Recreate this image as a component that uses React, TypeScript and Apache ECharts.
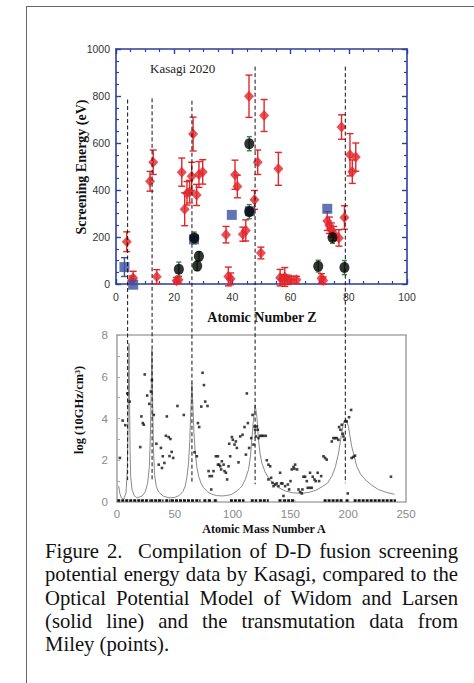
import React, { useEffect, useRef } from "react";
import * as echarts from "echarts";

// ---------- Top chart data (Kasagi 2020): [Z, screening energy eV, error half-length] ----------
const redPoints: number[][] = [
  [3.7, 180, 42], [5.5, 16, 18], [5.9, 26, 28], [11.7, 437, 42], [12.8, 518, 52], [14.0, 31, 30],
  [20.8, 14, 14], [21.5, 18, 14], [22.6, 476, 60], [23.6, 318, 70], [24.4, 386, 50], [25.3, 393, 48],
  [26.0, 458, 60], [26.5, 638, 72], [27.7, 379, 45], [28.5, 466, 55], [29.8, 477, 52],
  [37.8, 210, 35], [38.6, 32, 40], [39.4, 22, 25], [40.9, 465, 62], [41.7, 415, 48],
  [43.6, 212, 30], [44.6, 228, 45], [45.7, 799, 90], [47.6, 358, 40], [48.7, 518, 52],
  [49.8, 132, 25], [50.9, 717, 68], [55.8, 490, 70],
  [56.4, 27, 35], [57.2, 20, 20], [58.0, 30, 40], [58.8, 18, 20], [60.2, 18, 15], [62.0, 18, 15],
  [70.6, 24, 20], [71.2, 15, 15], [72.6, 268, 40], [73.3, 250, 35], [74.0, 230, 30], [74.8, 215, 30],
  [76.6, 196, 35], [77.5, 668, 52], [78.5, 283, 50], [80.4, 550, 90], [81.2, 478, 50], [82.4, 540, 60],
];
const bluePoints: number[][] = [
  [2.9, 72, 40], [5.9, -3, 0], [26.8, 190, 0], [39.8, 294, 0], [46.0, 310, 0], [72.6, 320, 0],
];
const blackPoints: number[][] = [
  [21.6, 63, 30], [26.9, 196, 25], [27.9, 77, 20], [28.5, 118, 20], [45.8, 308, 30],
  [45.8, 597, 30], [69.5, 76, 25], [74.4, 198, 25], [78.5, 70, 30],
];
const zTicks = [0, 20, 40, 60, 80, 100];
const eTicks = [0, 200, 400, 600, 800, 1000];

// ---------- Bottom chart data (Widom-Larsen model curve, Miley transmutation points) ----------
const modelCurve: number[][] = [
  [1.5, 0.76], [2.5, 0.4], [3.7, 0.2], [5.8, 0.13], [7.8, 0.44], [8.9, 1.56], [9.5, 3.46], [10.1, 6.3],
  [10.4, 7.6], [10.8, 5.0], [11.3, 2.5], [11.8, 1.24], [13, 0.6], [15, 0.3], [17.5, 0.2], [21.5, 0.28],
  [24.5, 0.5], [26.5, 0.9], [28, 1.7], [29, 3.4], [29.7, 5.8], [30.2, 7.3], [30.8, 5.0], [31.5, 2.6],
  [32.5, 1.3], [34, 0.75], [36, 0.48], [40, 0.28], [45, 0.2], [50, 0.22], [54, 0.32], [57, 0.5],
  [59, 0.76], [60.5, 1.2], [61.9, 1.87], [63, 3.0], [63.8, 4.3], [64.8, 5.68], [65.8, 4.4], [66.6, 3.3],
  [67.7, 2.35], [69, 1.7], [70.6, 1.24], [72.5, 0.92], [74.9, 0.68], [78, 0.5], [82.1, 0.37], [86, 0.31],
  [90.7, 0.29], [95, 0.31], [99.4, 0.37], [103, 0.5], [106, 0.64], [108, 0.76], [111, 1.08], [113.8, 1.56],
  [115.5, 2.2], [116.6, 2.98], [118, 3.9], [119.5, 4.65], [121, 4.1], [122.4, 2.98], [123.8, 2.3],
  [125.3, 1.87], [128, 1.45], [131, 1.16], [135, 0.9], [140, 0.68], [146, 0.52], [152, 0.44], [160, 0.42],
  [166, 0.46], [172, 0.56], [177, 0.72], [182, 0.9], [186, 1.25], [189, 1.7], [191.5, 2.3], [193.5, 3.0],
  [196, 3.8], [198, 3.97], [200.2, 3.62], [203, 2.67], [207.4, 1.71], [210.5, 1.35], [214.6, 1.08],
  [220, 0.82], [226, 0.6], [233, 0.46], [240, 0.37],
];
const mileyPoints: number[][] = [
  [2.5, 2.11], [4.9, 3.9], [7.2, 3.68], [8.9, 5.2], [10.9, 4.81], [20.1, 2.63], [21.1, 4.1], [22.3, 3.78],
  [23.2, 3.7], [24.0, 6.11], [26.1, 5.1], [27.9, 4.7], [29.3, 5.29], [30.2, 5.84], [31.8, 4.17], [34.1, 2.79],
  [36.1, 1.79], [38.0, 2.59], [38.9, 1.63], [39.6, 2.19], [41.0, 1.87], [42.3, 3.17], [43.1, 4.1],
  [44.7, 3.11], [46.2, 3.02], [45.4, 2.2], [47.3, 2.4], [48.6, 2.11], [52.3, 4.6], [57.8, 4.17],
  [67.1, 2.38], [69.1, 2.19], [70.0, 3.78], [71.1, 3.59], [72.9, 4.57], [74.0, 6.19], [75.2, 5.6],
  [76.3, 4.81], [78.3, 4.6], [79.2, 1.48], [80.1, 1.24], [81.5, 0.6], [82.1, 1.24], [83.5, 1.48],
  [85.5, 2.19], [87.3, 2.19], [87.3, 1.79], [88.4, 1.79], [89.3, 1.71], [90.1, 1.56], [90.7, 1.95],
  [92.2, 1.79], [93.0, 1.48], [94.2, 1.4], [95.3, 1.08], [96.5, 1.71], [97.1, 2.79], [97.9, 2.19],
  [99.4, 3.11], [100.2, 2.98], [101.7, 2.75], [102.8, 2.9], [103.7, 2.59], [105.1, 1.9], [106.6, 3.14],
  [108.6, 3.22], [110.3, 3.59], [111.5, 2.27], [112.3, 5.2], [113.2, 3.78], [114.3, 2.59], [116.1, 3.06],
  [117.2, 4.17], [118.1, 2.75], [119.0, 3.62], [119.5, 3.46], [120.1, 3.14], [121.0, 3.62], [121.8, 3.46],
  [122.4, 3.06], [123.8, 3.17], [125.3, 3.17], [126.7, 3.17], [128.7, 3.17], [129.6, 2.0], [131.0, 1.79],
  [132.5, 1.71], [131.0, 1.08], [133.3, 1.16], [134.5, 0.92], [135.4, 0.76], [136.8, 0.84], [138.2, 0.89],
  [139.7, 0.76], [141.1, 1.4], [142.0, 0.89], [143.1, 0.89], [144.0, 0.29], [145.4, 0.76], [147.8, 0.84],
  [148.9, 0.6], [150.1, 1.0], [151.2, 1.56], [152.7, 1.68], [153.5, 1.59], [154.1, 1.79], [155.8, 1.56],
  [157.0, 0.6], [158.4, 0.48], [159.9, 0.41], [160.4, 0.6], [161.3, 1.21], [162.7, 1.21], [164.2, 1.0],
  [165.0, 0.68], [167.0, 0.68], [168.5, 0.68], [167.0, 1.4], [169.3, 1.21], [170.8, 1.08], [171.9, 1.0],
  [173.6, 1.4], [174.8, 1.0], [176.6, 1.24], [178.6, 2.19], [180.0, 2.11], [181.4, 2.03], [185.8, 2.9],
  [187.2, 3.06], [188.6, 3.06], [190.1, 3.06], [191.5, 2.98], [192.1, 3.59], [193.3, 3.46], [194.4, 3.7],
  [195.3, 3.27], [195.9, 3.14], [196.7, 2.98], [197.3, 3.86], [198.7, 3.86], [199.6, 0.41], [200.7, 4.06],
  [202.5, 4.41], [203.0, 2.11], [204.5, 2.16], [205.9, 2.22], [237.0, 1.21],
];
// ranges of A where Miley points sit at (about) zero, drawn as a dense rug on the axis
const zeroRanges: number[][] = [
  [1.5, 19], [22, 27], [30, 35], [37, 39], [43, 45], [48, 66], [69, 71], [76, 77], [80, 81], [85, 86],
  [99, 109], [117, 120], [124, 130], [141, 142], [145, 150], [152, 153], [180, 194], [199, 200], [206, 240],
];
const aTicks = [0, 50, 100, 150, 200, 250];
const logTicks = [0, 2, 4, 6, 8];

// dashed guides linking Z (top) to A peaks (bottom): Z, top energy, bottom log value
const guideZ = [4.0, 12.4, 26.1, 47.8, 78.8];
const guideTopE = [785, 790, 780, 925, 925];
const guideBottomV = [1.05, 1.05, 0.95, 0.85, 0.9];

const CAPTION =
  "Figure 2.\u00a0 Compilation of D-D fusion screening potential energy data by Kasagi, compared to the " +
  "Optical Potential Model of Widom and Larsen (solid line) and the transmutation data from Miley (points).";

const BLUE_AX = "#2b3f9b";
const RED = "#e2262c";
const BLUE = "#3852a4";
const GREEN = "#2f8a3e";
const GRAY_AX = "#a8a8a8";

const errBar = (color: string, cap: number) => (params: any, api: any) => {
  const x = api.value(0);
  const y = api.value(1);
  const e = api.value(2);
  if (!e) return null;
  const lo = api.coord([x, y - e]);
  const hi = api.coord([x, y + e]);
  const st = { stroke: color, lineWidth: 1.4 };
  return {
    type: "group",
    children: [
      { type: "line", shape: { x1: lo[0], y1: lo[1], x2: hi[0], y2: hi[1] }, style: st },
      { type: "line", shape: { x1: lo[0] - cap, y1: lo[1], x2: lo[0] + cap, y2: lo[1] }, style: st },
      { type: "line", shape: { x1: hi[0] - cap, y1: hi[1], x2: hi[0] + cap, y2: hi[1] }, style: st },
    ],
  };
};

const rugRender = (params: any, api: any) => {
  const a = api.coord([api.value(0), 0]);
  const b = api.coord([api.value(1), 0]);
  return {
    type: "line",
    shape: { x1: a[0] - 1.5, y1: a[1] - 1.5, x2: b[0] + 1.5, y2: b[1] - 1.5 },
    style: { stroke: "#111", lineWidth: 2.4, lineDash: [3, 1] },
  };
};

const serif = "'Liberation Serif', 'Times New Roman', serif";
const sans = "'Liberation Sans', Arial, sans-serif";

export default function App() {
  const ref = useRef<HTMLDivElement>(null);
  useEffect(() => {
    if (!ref.current) return;
    const chart = echarts.init(ref.current, null, { renderer: "svg" });
    const tickIn = { show: true, inside: true, length: 5, lineStyle: { color: BLUE_AX, width: 1.4 } };
    const minorIn = { show: true, splitNumber: 4, length: 3, lineStyle: { color: BLUE_AX, width: 1.2 } };
    const topAxisBase = {
      gridIndex: 0,
      type: "value",
      splitLine: { show: false },
      axisLine: { show: true, onZero: false, lineStyle: { color: BLUE_AX, width: 1.6 } },
      axisTick: tickIn,
      minorTick: minorIn,
      minorSplitLine: { show: false },
    };
    const botAxisBase = {
      gridIndex: 1,
      type: "value",
      splitLine: { show: false },
      axisLine: { show: true, onZero: false, lineStyle: { color: GRAY_AX, width: 1.6 } },
      axisTick: { show: false },
    };
    const plain = (v: number) => String(v);
    const option: any = {
      animation: false,
      backgroundColor: "transparent",
      grid: [
        { left: 116, top: 49, width: 291, height: 235 },
        { left: 117, top: 335, width: 289, height: 167 },
      ],
      xAxis: [
        {
          ...topAxisBase,
          position: "bottom",
          min: zTicks[0],
          max: zTicks[zTicks.length - 1],
          interval: 20,
          axisLabel: { color: "#333", fontSize: 10.5, fontFamily: sans, margin: 7, formatter: plain },
        },
        {
          ...topAxisBase,
          position: "top",
          min: zTicks[0],
          max: zTicks[zTicks.length - 1],
          interval: 20,
          axisLabel: { show: false },
        },
        {
          ...botAxisBase,
          position: "bottom",
          min: aTicks[0],
          max: aTicks[aTicks.length - 1],
          interval: 50,
          axisLabel: { color: "#8a8a8a", fontSize: 11.5, fontFamily: sans, margin: 6, formatter: plain },
        },
        {
          ...botAxisBase,
          position: "top",
          min: aTicks[0],
          max: aTicks[aTicks.length - 1],
          interval: 50,
          axisLabel: { show: false },
        },
      ],
      yAxis: [
        {
          ...topAxisBase,
          position: "left",
          min: eTicks[0],
          max: eTicks[eTicks.length - 1],
          interval: 200,
          axisLabel: { color: "#333", fontSize: 10.5, fontFamily: sans, margin: 6, formatter: plain },
        },
        {
          ...topAxisBase,
          position: "right",
          min: eTicks[0],
          max: eTicks[eTicks.length - 1],
          interval: 200,
          axisLabel: { show: false },
        },
        {
          ...botAxisBase,
          position: "left",
          min: logTicks[0],
          max: logTicks[logTicks.length - 1],
          interval: 2,
          axisTick: { show: true, inside: true, length: 3, lineStyle: { color: GRAY_AX } },
          minorTick: { show: true, splitNumber: 2, length: 3, lineStyle: { color: GRAY_AX } },
          axisLabel: { color: "#8a8a8a", fontSize: 11.5, fontFamily: sans, margin: 9, formatter: plain },
        },
        {
          ...botAxisBase,
          position: "right",
          min: logTicks[0],
          max: logTicks[logTicks.length - 1],
          interval: 2,
          axisLabel: { show: false },
        },
      ],
      series: [
        {
          type: "custom",
          xAxisIndex: 0,
          yAxisIndex: 0,
          renderItem: errBar(RED, 3.5),
          data: redPoints,
          encode: { x: 0, y: 1 },
          clip: false,
          z: 2,
        },
        {
          type: "custom",
          xAxisIndex: 0,
          yAxisIndex: 0,
          renderItem: errBar(BLUE, 3.5),
          data: bluePoints,
          encode: { x: 0, y: 1 },
          clip: false,
          z: 2,
        },
        {
          type: "custom",
          xAxisIndex: 0,
          yAxisIndex: 0,
          renderItem: errBar(GREEN, 2.5),
          data: blackPoints,
          encode: { x: 0, y: 1 },
          clip: false,
          z: 2,
        },
        {
          type: "scatter",
          xAxisIndex: 0,
          yAxisIndex: 0,
          symbol: "diamond",
          symbolSize: [10, 11],
          itemStyle: { color: RED },
          data: redPoints.map((p) => [p[0], p[1]]),
          clip: false,
          z: 3,
        },
        {
          type: "scatter",
          xAxisIndex: 0,
          yAxisIndex: 0,
          symbol: "rect",
          symbolSize: 10,
          itemStyle: { color: BLUE },
          data: bluePoints.map((p) => [p[0], p[1]]),
          clip: false,
          z: 3,
        },
        {
          type: "scatter",
          xAxisIndex: 0,
          yAxisIndex: 0,
          symbol: "circle",
          symbolSize: [10, 11],
          itemStyle: { color: "#000" },
          data: blackPoints.map((p) => [p[0], p[1]]),
          clip: false,
          z: 4,
        },
        {
          type: "line",
          xAxisIndex: 2,
          yAxisIndex: 2,
          data: modelCurve,
          showSymbol: false,
          smooth: false,
          lineStyle: { color: "#8a8a8a", width: 1 },
          z: 2,
        },
        {
          type: "scatter",
          xAxisIndex: 2,
          yAxisIndex: 2,
          symbol: "rect",
          symbolSize: 2.6,
          itemStyle: { color: "#111" },
          data: mileyPoints,
          z: 3,
        },
        {
          type: "custom",
          xAxisIndex: 2,
          yAxisIndex: 2,
          renderItem: rugRender,
          data: zeroRanges,
          encode: { x: [0, 1] },
          clip: false,
          z: 3,
        },
      ],
    };
    chart.setOption(option);

    const graphics: any[] = [];
    guideZ.forEach((z, i) => {
      const top = chart.convertToPixel({ gridIndex: 0 }, [z, guideTopE[i]]) as number[];
      const bot = chart.convertToPixel({ gridIndex: 1 }, [0, guideBottomV[i]]) as number[];
      graphics.push({
        type: "line",
        shape: { x1: top[0], y1: top[1], x2: top[0], y2: bot[1] },
        style: { stroke: "#111", lineWidth: 1, lineDash: [4, 2.5] },
        z: 10,
      });
    });
    graphics.push(
      {
        type: "text",
        x: 150,
        y: 68,
        style: { text: "Kasagi 2020", font: `13px ${serif}`, fill: "#222", verticalAlign: "middle" },
      },
      {
        type: "text",
        x: 81,
        y: 167,
        rotation: Math.PI / 2,
        style: {
          text: "Screening Energy (eV)",
          font: `bold 14px ${serif}`,
          fill: "#111",
          align: "center",
          verticalAlign: "middle",
        },
      },
      {
        type: "text",
        x: 262,
        y: 317,
        style: {
          text: "Atomic Number Z",
          font: `bold 14px ${serif}`,
          fill: "#111",
          align: "center",
          verticalAlign: "middle",
        },
      },
      {
        type: "text",
        x: 79,
        y: 410,
        rotation: Math.PI / 2,
        style: {
          text: "log (10GHz/cm³)",
          font: `bold 12.5px ${serif}`,
          fill: "#111",
          align: "center",
          verticalAlign: "middle",
        },
      },
      {
        type: "text",
        x: 264,
        y: 529,
        style: {
          text: "Atomic Mass Number A",
          font: `bold 12px ${serif}`,
          fill: "#111",
          align: "center",
          verticalAlign: "middle",
        },
      }
    );
    chart.setOption({ graphic: graphics });
    return () => chart.dispose();
  }, []);

  return (
    <div
      style={{
        position: "fixed",
        left: 0,
        top: 0,
        width: 474,
        height: 683,
        background: "#fff",
        overflow: "hidden",
      }}
    >
      <div style={{ position: "absolute", left: 26, top: 6, width: 448, height: 1, background: "#666" }} />
      <div style={{ position: "absolute", left: 26, top: 6, width: 1, height: 677, background: "#666" }} />
      <div ref={ref} style={{ position: "absolute", left: 0, top: 0, width: 474, height: 539 }} />
      <div
        style={{
          position: "absolute",
          left: 45,
          top: 540,
          width: 413,
          fontFamily: serif,
          fontSize: 20.7,
          lineHeight: "23.3px",
          textAlign: "justify",
          color: "#111",
        }}
      >
        {CAPTION}
      </div>
    </div>
  );
}
